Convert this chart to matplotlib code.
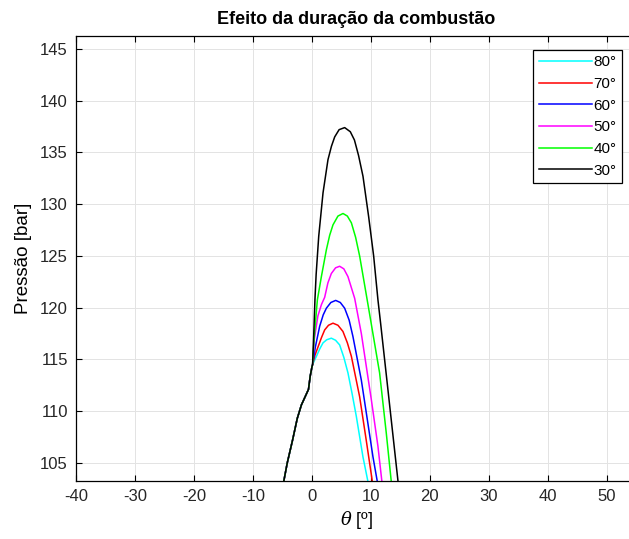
import matplotlib
matplotlib.use('Agg')
import matplotlib.pyplot as plt

plt.rcParams['font.family'] = ['Liberation Sans', 'DejaVu Sans']
plt.rcParams['mathtext.fontset'] = 'dejavuserif'
plt.rcParams['axes.unicode_minus'] = False

# tramo comum (compressao) antes da separacao das curvas
theta_comum = [-4.8, -4.2, -3.3, -2.5, -1.8, -1.0, -0.6, -0.3, 0.0, 0.1]
p_comum = [103.2, 105.0, 107.2, 109.3, 110.6, 111.6, 112.1, 113.4, 114.3, 114.5]

theta_80 = [0.75, 1.3, 1.87, 2.5, 3.28, 4.0, 4.69, 5.4, 6.1, 6.8, 7.52, 8.64, 9.49]
p_80 = [115.3, 116.0, 116.6, 116.9, 117.05, 116.85, 116.4, 115.2, 113.7, 111.7, 109.5, 105.6, 103.2]

theta_70 = [0.5, 1.02, 1.6, 2.15, 2.8, 3.56, 4.4, 5.25, 6.0, 6.68, 8.08, 9.2, 10.24]
p_70 = [115.4, 116.2, 117.1, 117.85, 118.3, 118.5, 118.3, 117.7, 116.6, 115.3, 111.4, 107.2, 103.2]

theta_60 = [0.57, 1.3, 1.9, 2.44, 3.2, 4.02, 4.8, 5.54, 6.3, 6.95, 8.37, 9.49, 10.34, 11.08]
p_60 = [116.2, 118.2, 119.3, 119.95, 120.5, 120.7, 120.5, 119.95, 118.8, 117.2, 113.0, 108.8, 105.6, 103.2]

theta_50 = [0.4, 1.0, 1.6, 2.15, 2.7, 3.28, 4.0, 4.69, 5.4, 6.1, 7.24, 8.37, 10.07, 11.19, 11.86]
p_50 = [117.0, 119.2, 120.3, 121.0, 122.4, 123.3, 123.85, 124.0, 123.75, 123.0, 120.9, 117.5, 111.1, 106.6, 103.2]

theta_40 = [0.35, 0.91, 1.59, 2.44, 3.0, 3.56, 4.4, 5.26, 6.0, 6.68, 7.4, 8.08, 9.5, 11.47, 12.6, 13.45]
p_40 = [117.0, 120.75, 123.0, 125.6, 127.0, 128.0, 128.85, 129.1, 128.85, 128.2, 126.8, 125.0, 120.3, 113.7, 107.9, 103.2]

theta_30 = [0.3, 0.5, 0.7, 1.14, 1.87, 2.71, 3.3, 3.85, 4.6, 5.54, 6.5, 7.2, 7.9, 8.65, 9.61, 10.46,
            11.19, 11.64, 12.88, 14.0, 14.6]
p_30 = [117.5, 120.8, 123.2, 126.9, 131.1, 134.3, 135.6, 136.5, 137.2, 137.4, 137.0, 136.2, 134.7,
        132.7, 128.8, 125.0, 120.75, 118.5, 112.1, 106.3, 103.2]

labels = ['80°', '70°', '60°', '50°', '40°', '30°']
cores = ['#00ffff', '#ff0000', '#0000ff', '#ff00ff', '#00ff00', '#000000']
series = [(theta_80, p_80), (theta_70, p_70), (theta_60, p_60),
          (theta_50, p_50), (theta_40, p_40), (theta_30, p_30)]

fig = plt.figure(figsize=(6.29, 5.39), dpi=100)
ax = fig.add_axes([0.1213, 0.1076, 0.89, 0.8256])

for (th, p), cor, lab in zip(series, cores, labels):
    ax.plot(theta_comum + th, p_comum + p, color=cor, lw=1.1, label=lab)

ax.set_xlim(-40, 55)
ax.set_ylim(103.25, 146.25)
ax.set_xticks(range(-40, 51, 10))
ax.set_yticks(range(105, 146, 5))
ax.tick_params(direction='in', top=True, right=True, labelsize=12, length=4, width=0.8, pad=6,
               labelcolor='#262626')
ax.grid(True, color='#e3e3e3', lw=0.7)
ax.set_axisbelow(True)
for s in ax.spines.values():
    s.set_linewidth(0.9)

ax.set_title('Efeito da duração da combustão', fontsize=13, fontweight='bold', pad=9)
ax.set_xlabel(r'$\theta$ [º]', fontsize=13, labelpad=3)
ax.set_ylabel('Pressão [bar]', fontsize=13.5, labelpad=6)

leg = ax.legend(loc='upper right', bbox_to_anchor=(622 / 629, 1 - 50 / 539),
                bbox_transform=fig.transFigure, fontsize=11, fancybox=False,
                framealpha=1, edgecolor='black', handlelength=3.5, handletextpad=0.1,
                labelspacing=0.5, borderpad=0.35, borderaxespad=0)
leg.get_frame().set_linewidth(0.9)

fig.savefig('out.png', dpi=100)
